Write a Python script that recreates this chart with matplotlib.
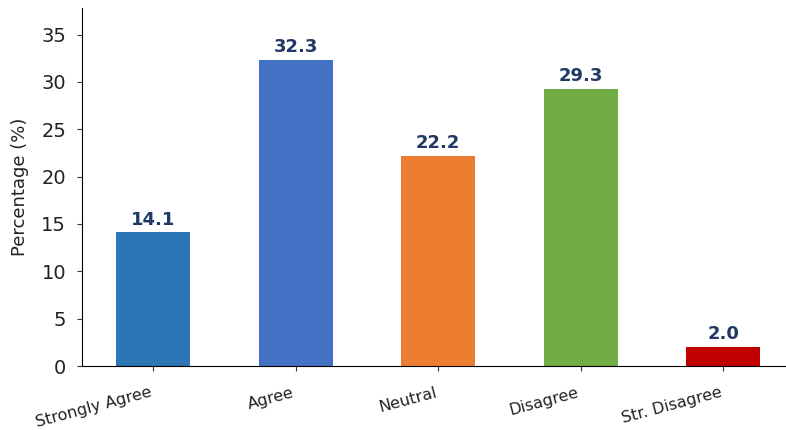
import matplotlib
matplotlib.use("Agg")
import matplotlib.pyplot as plt

categories = ["Strongly Agree", "Agree", "Neutral", "Disagree", "Str. Disagree"]
values = [14.1, 32.3, 22.2, 29.3, 2.0]
colors = ["#2E75B6", "#4472C4", "#ED7D31", "#70AD47", "#C00000"]

fig = plt.figure(figsize=(7.86, 4.30), dpi=100)
ax = fig.add_axes([82 / 786, 64 / 430, 712.5 / 786, 358 / 430])

x = list(range(len(categories)))
ax.bar(x, values, width=0.52, color=colors)

for xi, v in zip(x, values):
    ax.text(xi, v + 0.4, f"{v:.1f}", ha="center", va="bottom",
            fontsize=13, fontweight="bold", color="#1F3864")

ax.set_xlim(-0.5, 4.5)
ax.set_ylim(0, 37.8)
ax.set_yticks(range(0, 40, 5))
ax.tick_params(axis="y", labelsize=14, pad=8, colors="#333333", labelcolor="#222222")
ax.tick_params(axis="x", pad=10, colors="#333333", labelcolor="#222222")
ax.set_xticks(x)
ax.set_xticklabels(categories, rotation=15, ha="right", fontsize=11.5)
ax.set_ylabel("Percentage (%)", fontsize=13, labelpad=9, color="#222222")
ax.spines["top"].set_visible(False)
ax.spines["right"].set_visible(False)

fig.savefig("out.png", dpi=100)
